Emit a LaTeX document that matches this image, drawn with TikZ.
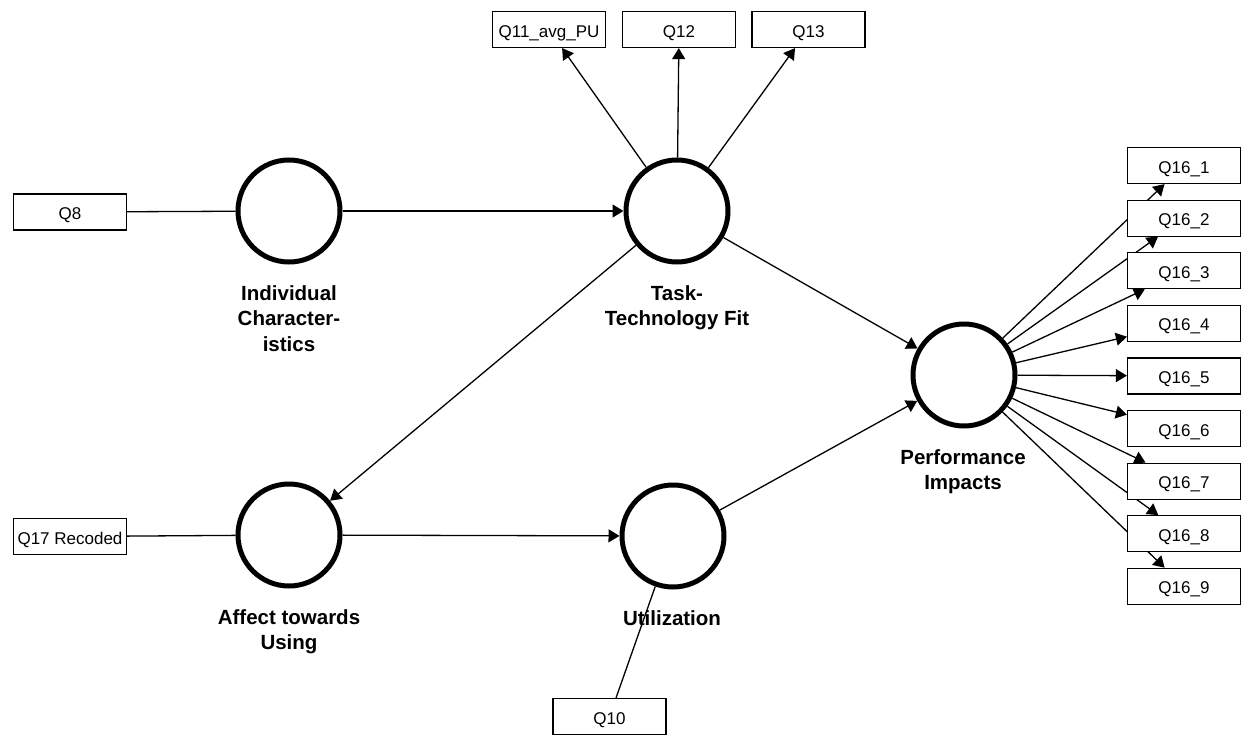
\documentclass[tikz,border=0pt]{standalone}
\usepackage{fontspec}
\setmainfont{Liberation Sans}
\usetikzlibrary{arrows.meta,backgrounds}
\begin{document}
\begin{tikzpicture}[x=1pt,y=-1pt,
 lv/.style={circle,draw,line width=5pt,fill=white,minimum size=102pt,inner sep=0pt},
 ind/.style={rectangle,draw,line width=1.2pt,fill=white,minimum width=113pt,minimum height=36pt,inner sep=0pt,text height=15pt,text depth=0pt,font=\fontsize{17}{20}\selectfont},
 lab/.style={anchor=north,align=center,inner sep=0pt,font=\bfseries\fontsize{20.5}{25.5}\selectfont},
 con/.style={line width=1.3pt},
 arr/.style={con,-{Triangle[length=11pt,width=13pt]}}]
\useasboundingbox (0,0) rectangle (1243,736);
% latent variables
\node[lv] (ic) at (289,211) {};
\node[lv] (ttf) at (677,211) {};
\node[lv] (pi) at (964,375) {};
\node[lv] (atu) at (289,535) {};
\node[lv] (u) at (673,536) {};
% labels
\node[lab] (icl) at (289,285) {Individual\\Character-\\istics};
\node[lab] (ttfl) at (677,285) {Task-\\Technology Fit};
\node[lab] (pil) at (963,449) {Performance\\Impacts};
\node[lab] (atul) at (289,609) {Affect towards\\Using};
\node[lab] (ul) at (672,610) {Utilization};
% indicators
\node[ind] (q8) at (70,212) {Q8};
\node[ind] (q17) at (70,536.5) {Q17 Recoded};
\node[ind] (q10) at (609.5,716.5) {Q10};
\node[ind] (q11) at (549,29.5) {Q11\_avg\_PU};
\node[ind] (q12) at (679,29.5) {Q12};
\node[ind] (q13) at (808.5,29.5) {Q13};
\foreach \i in {1,...,9} {
  \node[ind] (q16\i) at (1184,{165.5+52.6*(\i-1)}) {Q16\_\i};
}
\begin{pgfonlayer}{background}
\draw[con] (q8) -- (ic);
\draw[con] (q17) -- (atu);
\draw[con] (q10) -- (u);
\draw[arr] (ic) -- (ttf);
\draw[arr] (ttf) -- (q11);
\draw[arr] (ttf) -- (q12);
\draw[arr] (ttf) -- (q13);
\draw[arr] (ttf) -- (pi);
\draw[arr] (ttf) -- (atu);
\draw[arr] (atu) -- (u);
\draw[arr] (u) -- (pi);
\foreach \i in {1,...,9} {
  \draw[arr] (pi) -- (q16\i);
}
\end{pgfonlayer}
\end{tikzpicture}
\end{document}
